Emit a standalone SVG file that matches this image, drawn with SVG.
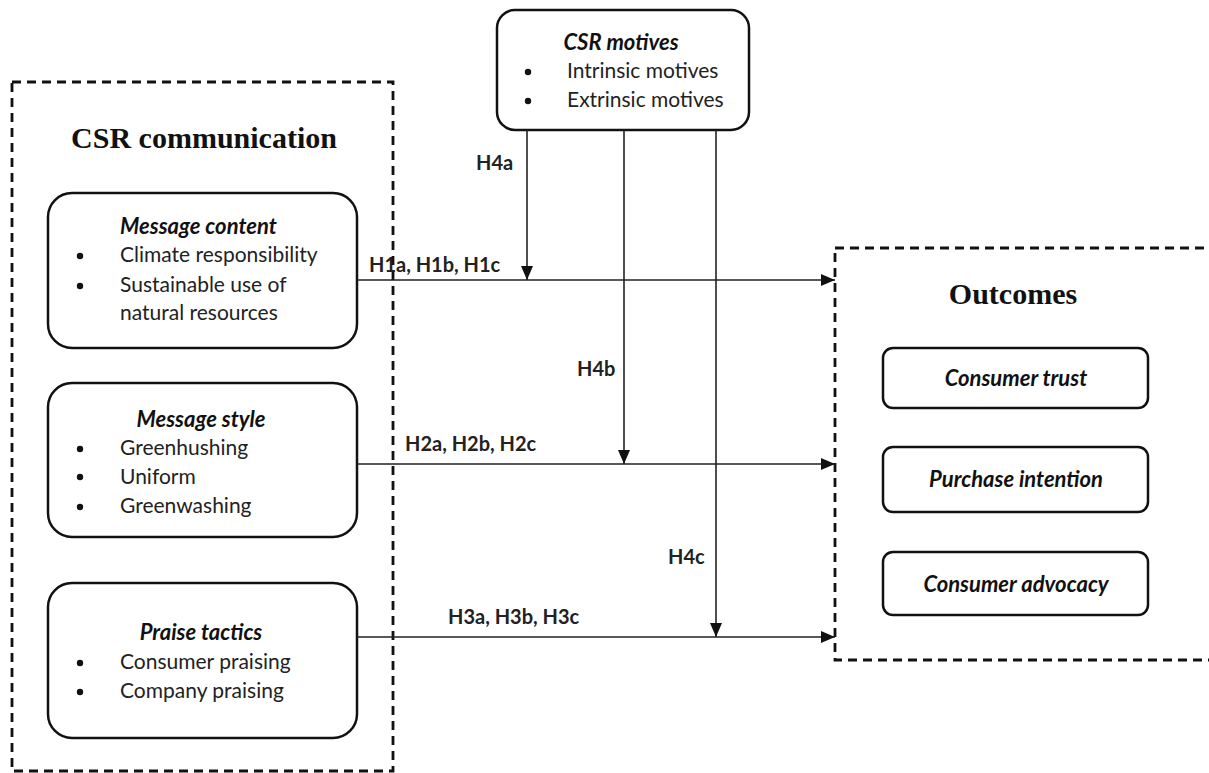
<svg xmlns="http://www.w3.org/2000/svg" width="1209" height="773" viewBox="0 0 1209 773">
<defs>
<style>
.dash{fill:none;stroke:#111;stroke-width:2.8;stroke-dasharray:9 6}
.box{fill:#fff;stroke:#111;stroke-width:2.5}
.ln{fill:none;stroke:#222;stroke-width:1.6}
.hd{font-family:"Liberation Serif","Times New Roman",serif;font-weight:bold;font-size:30px;fill:#111;text-anchor:middle}
.tt{font-family:Lato,"Liberation Sans",sans-serif;font-weight:bold;font-style:italic;font-size:22px;fill:#111}
.it{font-family:Lato,"Liberation Sans",sans-serif;font-size:21px;fill:#222}
.lb{font-family:Lato,"Liberation Sans",sans-serif;font-weight:bold;font-size:20px;fill:#222}
.bl{fill:#111}
</style>
<marker id="ah" viewBox="0 0 14 12" refX="14" refY="6" markerWidth="14" markerHeight="12" markerUnits="userSpaceOnUse" orient="auto">
<path d="M0,0 L14,6 L0,12 Z" fill="#111"/>
</marker>
</defs>
<rect width="1209" height="773" fill="#fff"/>

<g id="csr-communication">
<rect class="dash" x="12" y="82" width="381" height="689"/>
<text class="hd" x="204" y="148">CSR communication</text>
</g>

<g id="outcomes">
<rect class="dash" x="835" y="248" width="390" height="412"/>
<text class="hd" x="1013" y="304">Outcomes</text>
</g>

<g id="message-content">
<rect class="box" x="48" y="193" width="309" height="155" rx="24"/>
<text class="tt" x="120" y="234">Message content</text>
<circle class="bl" cx="80" cy="256" r="3.2"/>
<text class="it" x="120" y="262">Climate responsibility</text>
<circle class="bl" cx="80" cy="286" r="3.2"/>
<text class="it" x="120" y="292">Sustainable use of</text>
<text class="it" x="120" y="320">natural resources</text>
</g>

<g id="message-style">
<rect class="box" x="48" y="383" width="309" height="154" rx="24"/>
<text class="tt" x="201" y="427" text-anchor="middle">Message style</text>
<circle class="bl" cx="80" cy="449" r="3.2"/>
<text class="it" x="120" y="455">Greenhushing</text>
<circle class="bl" cx="80" cy="477" r="3.2"/>
<text class="it" x="120" y="484">Uniform</text>
<circle class="bl" cx="80" cy="507" r="3.2"/>
<text class="it" x="120" y="513">Greenwashing</text>
</g>

<g id="praise-tactics">
<rect class="box" x="48" y="583" width="309" height="155" rx="24"/>
<text class="tt" x="201" y="640" text-anchor="middle">Praise tactics</text>
<circle class="bl" cx="80" cy="663" r="3.2"/>
<text class="it" x="120" y="669">Consumer praising</text>
<circle class="bl" cx="80" cy="692" r="3.2"/>
<text class="it" x="120" y="698">Company praising</text>
</g>

<g id="csr-motives">
<rect class="box" x="497" y="10" width="252" height="120" rx="18"/>
<text class="tt" x="621" y="50" text-anchor="middle">CSR motives</text>
<circle class="bl" cx="528" cy="72" r="3.2"/>
<text class="it" x="567" y="78">Intrinsic motives</text>
<circle class="bl" cx="528" cy="101" r="3.2"/>
<text class="it" x="567" y="107">Extrinsic motives</text>
</g>

<g id="consumer-trust">
<rect class="box" x="883" y="348" width="265" height="60" rx="10"/>
<text class="tt" x="1016" y="386" text-anchor="middle">Consumer trust</text>
</g>
<g id="purchase-intention">
<rect class="box" x="883" y="447" width="265" height="65" rx="10"/>
<text class="tt" x="1016" y="487" text-anchor="middle">Purchase intention</text>
</g>
<g id="consumer-advocacy">
<rect class="box" x="883" y="552" width="265" height="63" rx="10"/>
<text class="tt" x="1016" y="592" text-anchor="middle">Consumer advocacy</text>
</g>

<g id="connectors">
<line class="ln" x1="357" y1="280" x2="835" y2="280" marker-end="url(#ah)"/>
<line class="ln" x1="357" y1="464" x2="835" y2="464" marker-end="url(#ah)"/>
<line class="ln" x1="357" y1="637" x2="835" y2="637" marker-end="url(#ah)"/>
<line class="ln" x1="527" y1="130" x2="527" y2="280" marker-end="url(#ah)"/>
<line class="ln" x1="624" y1="130" x2="624" y2="464" marker-end="url(#ah)"/>
<line class="ln" x1="716" y1="130" x2="716" y2="637" marker-end="url(#ah)"/>
<text class="lb" x="369" y="272">H1a, H1b, H1c</text>
<text class="lb" x="405" y="451">H2a, H2b, H2c</text>
<text class="lb" x="448" y="624">H3a, H3b, H3c</text>
<text class="lb" x="476" y="170">H4a</text>
<text class="lb" x="577" y="376">H4b</text>
<text class="lb" x="668" y="564">H4c</text>
</g>
</svg>
